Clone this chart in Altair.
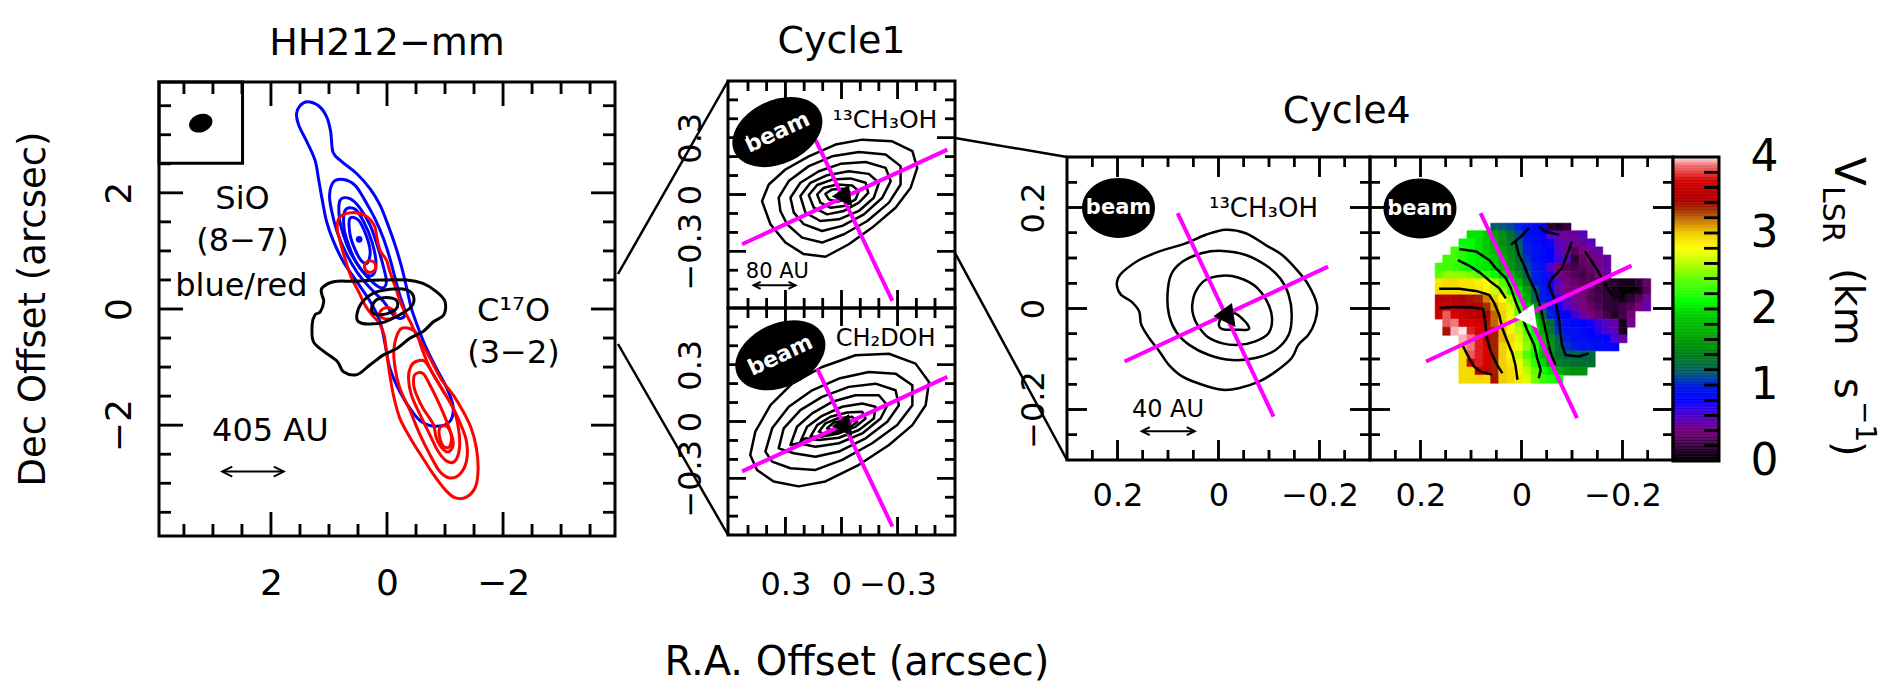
import altair as alt
import numpy as np
import pandas as pd

FONT = "DejaVu Sans"
W, H = 1884, 682
MAGENTA = "#ff00ff"

SIO_BLUE = [
    [(1.38, 3.57), (1.18, 3.50), (1.04, 3.31), (0.97, 3.05), (0.93, 2.70), (0.78, 2.54), (0.52, 2.33),
     (0.29, 2.07), (0.12, 1.79), (-0.02, 1.44), (-0.14, 1.10), (-0.25, 0.73), (-0.34, 0.36), (-0.42, 0.01),
     (-0.54, -0.33), (-0.68, -0.68), (-0.85, -1.02), (-1.03, -1.36), (-1.14, -1.68), (-1.08, -1.94),
     (-0.85, -2.02), (-0.62, -1.96), (-0.45, -1.79), (-0.22, -1.42), (-0.05, -1.02), (0.03, -0.62),
     (0.12, -0.22), (0.29, 0.13), (0.52, 0.47), (0.75, 0.81), (0.92, 1.16), (1.04, 1.50), (1.12, 1.90),
     (1.18, 2.24), (1.24, 2.56), (1.38, 2.88), (1.52, 3.16), (1.56, 3.36), (1.50, 3.50)],
    [(0.92, 2.19), (0.75, 2.23), (0.55, 2.13), (0.38, 1.87), (0.21, 1.56), (0.06, 1.21), (-0.05, 0.87),
     (-0.14, 0.53), (-0.22, 0.24), (-0.31, -0.05), (-0.25, -0.16), (-0.11, -0.10), (0.06, 0.13), (0.29, 0.36),
     (0.52, 0.64), (0.72, 0.99), (0.86, 1.33), (0.95, 1.67), (0.99, 1.96)],
    [(0.81, 1.87), (0.64, 1.90), (0.46, 1.73), (0.29, 1.44), (0.17, 1.10), (0.07, 0.76), (0.01, 0.47),
     (0.09, 0.36), (0.26, 0.47), (0.46, 0.70), (0.64, 0.99), (0.75, 1.27), (0.82, 1.56)],
    [(0.72, 1.70), (0.55, 1.72), (0.40, 1.50), (0.26, 1.16), (0.19, 0.81), (0.24, 0.59), (0.38, 0.61),
     (0.55, 0.84), (0.66, 1.10), (0.74, 1.39)],
    [(0.64, 1.56), (0.49, 1.53), (0.36, 1.27), (0.29, 0.99), (0.34, 0.79), (0.45, 0.84), (0.57, 1.07),
     (0.64, 1.30)],
]
SIO_BLUE_PEAK = [(0.48, 1.20)]

SIO_RED = [
    [(0.81, 1.59), (0.61, 1.66), (0.38, 1.61), (0.22, 1.44), (0.17, 1.21), (0.12, 1.01), (0.01, 0.84),
     (-0.05, 0.64), (-0.15, 0.36), (-0.25, 0.07), (-0.40, -0.22), (-0.51, -0.45), (-0.65, -0.68),
     (-0.80, -0.96), (-0.94, -1.22), (-1.14, -1.48), (-1.31, -1.76), (-1.45, -2.05), (-1.54, -2.39),
     (-1.57, -2.74), (-1.53, -3.05), (-1.37, -3.24), (-1.17, -3.25), (-1.00, -3.11), (-0.80, -2.85),
     (-0.60, -2.54), (-0.40, -2.22), (-0.22, -1.88), (-0.11, -1.48), (-0.04, -1.08), (0.01, -0.73),
     (0.05, -0.45), (0.13, -0.25), (0.26, -0.10), (0.38, 0.07), (0.49, 0.30), (0.61, 0.53), (0.69, 0.76),
     (0.76, 0.99), (0.82, 1.21), (0.86, 1.41)],
    [(0.29, 0.83), (0.36, 0.80), (0.39, 0.73), (0.36, 0.66), (0.29, 0.63), (0.22, 0.66), (0.19, 0.73),
     (0.22, 0.80)],
    [(0.12, -0.05), (0.03, 0.02), (-0.08, 0.00), (-0.14, -0.09), (-0.08, -0.16), (0.03, -0.17), (0.11, -0.13)],
    [(-0.22, -0.36), (-0.37, -0.33), (-0.51, -0.42), (-0.60, -0.68), (-0.74, -1.02), (-0.91, -1.31),
     (-1.08, -1.59), (-1.25, -1.94), (-1.37, -2.28), (-1.37, -2.62), (-1.25, -2.85), (-1.08, -2.91),
     (-0.91, -2.80), (-0.74, -2.51), (-0.57, -2.17), (-0.40, -1.76), (-0.22, -1.36), (-0.14, -1.02),
     (-0.12, -0.68)],
    [(-0.51, -0.90), (-0.65, -0.90), (-0.80, -1.13), (-0.97, -1.42), (-1.14, -1.71), (-1.23, -2.05),
     (-1.25, -2.39), (-1.17, -2.62), (-1.03, -2.62), (-0.88, -2.45), (-0.74, -2.17), (-0.57, -1.82),
     (-0.42, -1.48), (-0.37, -1.19), (-0.41, -0.99)],
    [(-0.48, -1.13), (-0.62, -1.11), (-0.74, -1.31), (-0.88, -1.59), (-1.03, -1.94), (-1.14, -2.28),
     (-1.08, -2.45), (-0.97, -2.42), (-0.85, -2.22), (-0.80, -1.99), (-0.62, -1.71), (-0.51, -1.48),
     (-0.46, -1.31)],
    [(-0.91, -2.05), (-1.03, -2.02), (-1.11, -2.19), (-1.08, -2.37), (-0.98, -2.37), (-0.91, -2.22)],
]

C17O = [
    [(1.12, 0.36), (0.92, 0.47), (0.58, 0.48), (0.12, 0.50), (-0.34, 0.50), (-0.62, 0.44), (-0.85, 0.30),
     (-1.00, 0.13), (-0.98, -0.10), (-0.80, -0.22), (-0.62, -0.39), (-0.40, -0.50), (-0.17, -0.68),
     (0.06, -0.79), (0.29, -0.96), (0.52, -1.13), (0.75, -1.08), (0.86, -0.90), (1.09, -0.73),
     (1.27, -0.56), (1.29, -0.27), (1.24, -0.10), (1.15, -0.05), (1.09, 0.13), (1.12, 0.24)],
    [(0.52, -0.10), (0.44, 0.10), (0.24, 0.27), (-0.05, 0.34), (-0.34, 0.33), (-0.46, 0.21), (-0.42, 0.04),
     (-0.22, -0.10), (0.06, -0.23), (0.32, -0.26), (0.49, -0.22)],
    [(0.26, 0.04), (0.18, 0.16), (0.01, 0.20), (-0.15, 0.16), (-0.18, 0.04), (-0.08, -0.05), (0.09, -0.10),
     (0.24, -0.07)],
]

CH3OH13_C1 = [
    [(0.425, -0.035), (0.389, 0.053), (0.30, 0.132), (0.175, 0.202), (0.032, 0.264), (-0.111, 0.29),
     (-0.271, 0.281), (-0.379, 0.229), (-0.405, 0.141), (-0.37, 0.036), (-0.289, -0.07), (-0.164, -0.175),
     (-0.039, -0.263), (0.086, -0.329), (0.202, -0.315), (0.30, -0.254), (0.38, -0.157)],
    [(0.336, -0.017), (0.282, 0.071), (0.175, 0.15), (0.05, 0.202), (-0.093, 0.225), (-0.236, 0.211),
     (-0.316, 0.15), (-0.316, 0.053), (-0.254, -0.043), (-0.138, -0.14), (-0.013, -0.21), (0.104, -0.254),
     (0.211, -0.228), (0.291, -0.157), (0.327, -0.087)],
    [(0.273, -0.017), (0.22, 0.062), (0.121, 0.123), (0.005, 0.162), (-0.129, 0.172), (-0.236, 0.141),
     (-0.263, 0.071), (-0.218, -0.017), (-0.12, -0.105), (-0.004, -0.166), (0.104, -0.193), (0.202, -0.157),
     (0.255, -0.096)],
    [(0.22, -0.008), (0.166, 0.062), (0.077, 0.102), (-0.039, 0.123), (-0.146, 0.109), (-0.2, 0.062),
     (-0.173, -0.017), (-0.093, -0.087), (0.014, -0.131), (0.113, -0.14), (0.193, -0.096)],
    [(0.175, -0.003), (0.13, 0.05), (0.05, 0.079), (-0.048, 0.085), (-0.129, 0.062), (-0.143, 0.009),
     (-0.093, -0.043), (-0.013, -0.087), (0.077, -0.105), (0.148, -0.07)],
    [(0.13, 0.0), (0.095, 0.036), (0.023, 0.053), (-0.057, 0.048), (-0.093, 0.018), (-0.075, -0.026),
     (-0.013, -0.061), (0.059, -0.07), (0.113, -0.043)],
    [(0.086, 0.004), (0.05, 0.027), (-0.013, 0.03), (-0.048, 0.009), (-0.03, -0.021), (0.023, -0.038),
     (0.068, -0.026)],
]

CH2DOH_C1 = [
    [(0.488, -0.177), (0.461, -0.054), (0.38, 0.086), (0.264, 0.2), (0.104, 0.288), (-0.075, 0.35),
     (-0.254, 0.358), (-0.396, 0.306), (-0.468, 0.209), (-0.45, 0.086), (-0.379, -0.019), (-0.254, -0.124),
     (-0.093, -0.229), (0.086, -0.317), (0.229, -0.343), (0.363, -0.317), (0.452, -0.256)],
    [(0.407, -0.159), (0.371, -0.036), (0.282, 0.078), (0.157, 0.165), (0.014, 0.227), (-0.146, 0.262),
     (-0.289, 0.253), (-0.379, 0.192), (-0.379, 0.086), (-0.298, -0.019), (-0.164, -0.115), (-0.004, -0.203),
     (0.139, -0.256), (0.273, -0.247), (0.371, -0.212)],
    [(0.336, -0.142), (0.309, -0.036), (0.22, 0.06), (0.104, 0.13), (-0.039, 0.183), (-0.182, 0.2),
     (-0.289, 0.165), (-0.307, 0.086), (-0.245, -0.001), (-0.129, -0.089), (0.014, -0.159), (0.139, -0.186),
     (0.255, -0.168)],
    [(0.273, -0.124), (0.238, -0.028), (0.157, 0.043), (0.05, 0.104), (-0.075, 0.139), (-0.2, 0.139),
     (-0.245, 0.086), (-0.209, 0.016), (-0.111, -0.063), (0.014, -0.115), (0.139, -0.133), (0.229, -0.115)],
    [(0.22, -0.107), (0.184, -0.028), (0.104, 0.03), (-0.004, 0.078), (-0.111, 0.095), (-0.182, 0.078),
     (-0.173, 0.016), (-0.093, -0.045), (0.014, -0.086), (0.121, -0.098), (0.193, -0.089)],
    [(0.166, -0.08), (0.13, -0.019), (0.059, 0.025), (-0.03, 0.048), (-0.111, 0.051), (-0.129, 0.016),
     (-0.075, -0.028), (0.014, -0.063), (0.104, -0.08)],
    [(0.121, -0.054), (0.086, -0.01), (0.023, 0.016), (-0.057, 0.025), (-0.084, -0.001), (-0.039, -0.036),
     (0.032, -0.057), (0.095, -0.066)],
    [(0.077, -0.036), (0.041, -0.005), (-0.021, 0.008), (-0.048, -0.01), (-0.013, -0.036), (0.041, -0.049)],
]

CH3OH13_C4 = [
    [(0.199, 0.06), (0.189, 0.073), (0.157, 0.096), (0.117, 0.113), (0.065, 0.129), (0.025, 0.146),
     (-0.014, 0.156), (-0.054, 0.149), (-0.093, 0.126), (-0.126, 0.106), (-0.152, 0.08), (-0.178, 0.047),
     (-0.195, 0.007), (-0.191, -0.026), (-0.178, -0.052), (-0.158, -0.072), (-0.145, -0.098),
     (-0.113, -0.125), (-0.08, -0.145), (-0.04, -0.158), (-0.008, -0.161), (0.032, -0.151), (0.071, -0.135),
     (0.098, -0.112), (0.117, -0.085), (0.137, -0.059), (0.153, -0.032), (0.157, -0.006), (0.173, 0.014),
     (0.193, 0.027), (0.201, 0.044)],
    [(0.101, 0.027), (0.094, 0.067), (0.071, 0.093), (0.032, 0.11), (-0.008, 0.114), (-0.054, 0.106),
     (-0.093, 0.086), (-0.122, 0.06), (-0.139, 0.027), (-0.145, -0.013), (-0.139, -0.052), (-0.113, -0.082),
     (-0.073, -0.098), (-0.027, -0.102), (0.019, -0.092), (0.058, -0.072), (0.084, -0.046), (0.098, -0.013)],
    [(0.052, 0.007), (0.045, 0.034), (0.025, 0.057), (-0.008, 0.065), (-0.04, 0.061), (-0.073, 0.044),
     (-0.096, 0.014), (-0.106, -0.019), (-0.099, -0.049), (-0.073, -0.065), (-0.04, -0.072), (-0.008, -0.069),
     (0.022, -0.056), (0.042, -0.032), (0.05, -0.013)],
    [(-0.001, -0.029), (-0.011, -0.013), (-0.031, -0.009), (-0.05, -0.023), (-0.06, -0.036), (-0.057, -0.042),
     (-0.034, -0.042), (-0.014, -0.042), (-0.004, -0.039)],
]

VEL_RA = [0.163, 0.148, 0.132, 0.116, 0.100, 0.084, 0.068, 0.053, 0.037, 0.021, 0.005, -0.011, -0.027,
          -0.043, -0.058, -0.074, -0.090, -0.106, -0.122, -0.138, -0.153, -0.169, -0.185, -0.201, -0.217,
          -0.233, -0.248]
VEL_DEC = [0.161, 0.146, 0.130, 0.114, 0.098, 0.082, 0.066, 0.051, 0.035, 0.019, 0.003, -0.013, -0.029,
           -0.045, -0.060, -0.076, -0.092, -0.108, -0.124, -0.140]
VEL_PIX = 0.0160
VEL_ROWS = [
    (7, [1.2, 1.15, 1.1, 1.0, 0.9, 0.85, 0.8, 0.15, 0.1, 0.2]),
    (4, [2.0, 2.0, 1.9, 1.6, 1.5, 1.3, 1.1, 0.9, 0.85, 0.8, 0.6, 0.5, 0.45, 0.5, 0.55]),
    (3, [2.1, 2.1, 2.0, 1.9, 1.7, 1.5, 1.35, 1.15, 0.95, 0.85, 0.8, 0.75, 0.55, 0.5, 0.45, 0.5, 0.55]),
    (2, [2.3, 2.2, 2.1, 2.0, 1.9, 1.8, 1.6, 1.45, 1.25, 1.0, 0.9, 0.85, 0.8, 0.6, 0.45, 0.3, 0.4, 0.45, 0.5]),
    (1, [2.3, 2.3, 2.2, 2.1, 2.05, 2.0, 1.9, 1.7, 1.5, 1.3, 1.05, 0.9, 0.85, 0.8, 0.65, 0.55, 0.2, 0.35, 0.4,
         0.45, 0.5]),
    (0, [2.3, 2.3, 2.25, 2.2, 2.1, 2.05, 2.0, 1.95, 1.75, 1.55, 1.35, 1.1, 0.95, 0.9, 0.6, 0.4, 0.3, 0.25, 0.3,
         0.35, 0.45, 0.5]),
    (0, [2.4, 2.5, 2.5, 2.5, 2.45, 2.35, 2.25, 2.1, 1.95, 1.75, 1.5, 1.2, 1.0, 0.9, 0.7, 0.45, 0.35, 0.3, 0.25,
         0.3, 0.4, 0.5]),
    (0, [2.9, 2.95, 2.95, 2.9, 2.9, 2.85, 2.8, 2.6, 2.35, 2.1, 1.75, 1.4, 1.0, 0.9, 0.75, 0.55, 0.4, 0.35, 0.3,
         0.3, 0.25, 0.2, 0.15, 0.1, 0.1, 0.2, 0.35]),
    (0, [2.95, 2.95, 2.95, 2.95, 2.9, 2.9, 2.85, 2.65, 2.5, 2.25, 1.95, 1.6, 1.2, 0.95, 0.85, 0.5, 0.4, 0.4,
         0.35, 0.3, 0.25, 0.2, 0.1, 0.05, 0.05, 0.1, 0.3]),
    (0, [3.5, 3.55, 3.5, 3.45, 3.4, 3.35, 3.15, 3.0, 2.8, 2.55, 2.15, 1.7, 1.25, 0.95, 0.9, 0.7, 0.55, 0.45,
         0.4, 0.3, 0.25, 0.2, 0.15, 0.1, 0.2, 0.3, 0.45]),
    (0, [3.6, 3.65, 3.6, 3.55, 3.5, 3.45, 3.3, 3.1, 2.95, 2.7, 2.3, 1.9, 1.5, 1.2, 0.95, 0.75, 0.6, 0.5, 0.4,
         0.35, 0.3, 0.2, 0.2, 0.25, 0.3, 0.4, 0.5]),
    (0, [3.6, 3.85, 3.7, 3.6, 3.55, 3.5, 3.45, 3.2, 3.0, 2.75, 2.4, 2.0, 1.6, 1.3, 1.0, 0.85, 0.8, 0.65, 0.5,
         0.4, 0.35, 0.25, 0.15, 0.25, 0.4]),
    (1, [3.85, 3.9, 3.7, 3.7, 3.65, 3.4, 3.2, 3.0, 2.8, 2.5, 2.2, 1.9, 1.6, 1.3, 1.0, 0.9, 0.85, 0.8, 0.75,
         0.65, 0.55, 0.5, 0.1, 0.45]),
    (1, [3.4, 3.95, 4.0, 3.75, 3.7, 3.65, 3.35, 3.05, 2.85, 2.6, 2.35, 2.05, 1.7, 1.35, 1.05, 0.9, 0.9, 0.85,
         0.8, 0.7, 0.6, 0.55, 0.1]),
    (3, [3.95, 3.9, 3.75, 3.6, 3.35, 3.05, 2.95, 2.7, 2.45, 2.15, 1.85, 1.5, 1.2, 1.0, 0.9, 0.9, 0.85, 0.85,
         0.8, 0.6, 0.5]),
    (3, [2.95, 3.9, 3.75, 3.7, 3.35, 3.0, 2.9, 2.75, 2.5, 2.2, 1.9, 1.55, 1.3, 1.05, 0.95, 0.9, 0.9, 0.85,
         0.85, 0.8]),
    (3, [2.95, 3.85, 3.75, 3.7, 3.35, 3.0, 2.85, 2.6, 2.35, 2.1, 1.8, 1.5, 1.3, 1.2, 1.25, 1.2, 1.25]),
    (3, [2.95, 3.7, 3.75, 3.7, 3.35, 3.0, 2.9, 2.75, 2.5, 2.25, 1.95, 1.6, 1.4, 1.35, 1.3, 1.3, 1.3]),
    (3, [2.95, 2.95, 3.6, 3.6, 3.35, 3.0, 2.95, 2.85, 2.6, 2.4, 2.15, 2.0, 1.7, 1.55, 1.5, 1.5]),
    (3, [2.95, 2.95, 2.95, 2.95, 3.4, 3.0, 2.95, 2.9, 2.7, 2.45, 2.25, 2.2, 2.1]),
]
VEL_CONTOURS = [
    [(0.163, 0.039), (0.123, 0.039), (0.087, 0.034), (0.064, 0.027), (0.054, 0.011), (0.044, -0.013),
     (0.038, -0.039), (0.028, -0.065), (0.018, -0.089), (0.012, -0.112), (0.008, -0.141)],
    [(0.163, 0.001), (0.13, 0.003), (0.097, 0.002), (0.076, -0.001), (0.072, -0.026), (0.069, -0.056),
     (0.061, -0.085), (0.048, -0.112), (0.038, -0.128)],
    [(0.117, -0.072), (0.107, -0.092), (0.094, -0.115), (0.081, -0.125), (0.058, -0.131)],
    [(0.123, 0.118), (0.09, 0.113), (0.064, 0.096), (0.051, 0.08), (0.031, 0.06), (0.021, 0.04), (0.012, 0.014),
     (-0.002, -0.019), (-0.011, -0.042), (-0.025, -0.072), (-0.031, -0.098), (-0.038, -0.122), (-0.034, -0.138)],
    [(0.126, 0.096), (0.104, 0.085), (0.081, 0.07), (0.061, 0.053), (0.044, 0.04), (0.031, 0.02)],
    [(0.021, 0.126), (0.005, 0.139), (-0.015, 0.159)],
    [(0.012, 0.133), (0.005, 0.106), (-0.005, 0.086), (-0.015, 0.06), (-0.028, 0.034), (-0.038, 0.001),
     (-0.044, -0.026), (-0.051, -0.059), (-0.057, -0.085), (-0.067, -0.112)],
    [(-0.034, 0.162), (-0.048, 0.152), (-0.074, 0.146)],
    [(-0.1, 0.133), (-0.09, 0.106), (-0.08, 0.08), (-0.061, 0.06), (-0.054, 0.047), (-0.067, 0.014),
     (-0.074, -0.019), (-0.077, -0.046), (-0.08, -0.072), (-0.087, -0.092), (-0.113, -0.095), (-0.133, -0.089)],
    [(-0.126, 0.113), (-0.139, 0.093), (-0.152, 0.073), (-0.166, 0.047), (-0.179, 0.027), (-0.198, 0.02),
     (-0.205, 0.034), (-0.231, 0.04)],
]
VEL_STOPS = [0.0, 0.2, 0.4, 0.6, 0.8, 1.0, 1.15, 1.3, 1.6, 1.9, 2.1, 2.4, 2.6, 2.8, 3.0, 3.15, 3.3, 3.45,
             3.7, 3.9, 4.0]
VEL_COLORS = ["#000000", "#300038", "#7a007a", "#5000d0", "#0000ff", "#0020e0", "#005878", "#007030",
              "#00a000", "#00c800", "#00ff00", "#60ff00", "#b8ff00", "#ffff00", "#f0d000", "#d08000",
              "#a03000", "#b00000", "#d80000", "#f07878", "#ffe8ee"]

CUTS_C1_TOP = [(0.532, -0.263, -0.566, 0.237), (0.139, 0.289, -0.272, -0.562)]
CUTS_C1_BOT = [(0.532, -0.264, -0.566, 0.236), (0.13, 0.28, -0.272, -0.554)]
CUTS_C4_L = [(0.186, -0.105, -0.217, 0.083), (0.081, 0.189, -0.109, -0.214)]
CUTS_C4_R = [(0.189, -0.105, -0.218, 0.085), (0.081, 0.189, -0.11, -0.217)]
STAR_C1_TOP = [(-0.013, -0.005)]
STAR_C1_BOT = [(-0.013, -0.019)]
STAR_C4_L = [(-0.016, -0.013)]
STAR_C4_R = [(-0.013, -0.015)]

P1_MAJ = [-2.0, 0.0, 2.0]
P1_MIN = [-3.5, -3.0, -2.5, -1.5, -1.0, -0.5, 0.5, 1.0, 1.5, 2.5, 3.0, 3.5]
P2_MAJ = [-0.3, 0.0, 0.3]
P2_MIN = [-0.5, -0.4, -0.2, -0.1, 0.1, 0.2, 0.4, 0.5]
P3_MAJ = [-0.2, 0.0, 0.2]
P3_MIN = [-0.25, -0.15, -0.1, -0.05, 0.05, 0.1, 0.15, 0.25]
CB_LAB = [0, 1, 2, 3, 4]
CB_MIN = [0.2, 0.4, 0.6, 0.8, 1.0, 1.2, 1.4, 1.6, 1.8, 2.0, 2.2, 2.4, 2.6, 2.8, 3.0, 3.2, 3.4, 3.6, 3.8]


class Panel:
    def __init__(self, xdom, ydom, xr, yr):
        self.xdom, self.ydom, self.xr, self.yr = xdom, ydom, xr, yr
        self.ppx = (xr[1] - xr[0]) / (xdom[1] - xdom[0])
        self.ppy = (yr[1] - yr[0]) / (ydom[1] - ydom[0])

    def sx(self):
        return alt.Scale(domain=self.xdom, range=self.xr, nice=False, zero=False)

    def sy(self):
        return alt.Scale(domain=self.ydom, range=self.yr, nice=False, zero=False)

    def X(self, f="x", axis=None):
        return alt.X(f"{f}:Q", scale=self.sx(), axis=axis)

    def Y(self, f="y", axis=None):
        return alt.Y(f"{f}:Q", scale=self.sy(), axis=axis)

    def px(self, v):
        return self.xr[0] + (v - self.xdom[0]) * self.ppx

    def py(self, v):
        return self.yr[0] + (v - self.ydom[0]) * self.ppy

    def mid(self):
        return pd.DataFrame({"x": [sum(self.xdom) / 2], "y": [sum(self.ydom) / 2]})


P1 = Panel([3.93, -3.93], [-3.91, 3.91], [151, 607], [528, 74])
P2A = Panel([0.607, -0.607], [-0.6, 0.6], [720, 947], [300, 73])
P2B = Panel([0.607, -0.607], [-0.6, 0.6], [720, 947], [527, 300])
P3A = Panel([0.3, -0.3], [-0.3, 0.3], [1059, 1362], [452, 149])
P3B = Panel([0.3, -0.3], [-0.3, 0.3], [1362, 1665], [452, 149])
CB = Panel([0, 1], [0, 4], [1665, 1711], [453, 149])
FIG = Panel([0, 1900], [0, 698], [-8, 1892], [-8, 690])

ELL_P1 = "M -1 0 A 1 0.75 0 1 1 1 0 A 1 0.75 0 1 1 -1 0 Z"
ELL_P2 = "M -1 0 A 1 0.67 0 1 1 1 0 A 1 0.67 0 1 1 -1 0 Z"
ELL_P3 = "M -1 0 A 1 0.82 0 1 1 1 0 A 1 0.82 0 1 1 -1 0 Z"
TRI = "M -1.1 0.1 L 0.45 -1 L 0.75 1 Z"
SHAPE_KEYS = ["L", "R", "b", "t", "l", "r"]
SHAPE_PATHS = ["M 2 -1 L 0 0 L 2 1", "M -2 -1 L 0 0 L -2 1",
               "M 0 0 L 0 -2", "M 0 0 L 0 2", "M 0 0 L 2 0", "M 0 0 L -2 0"]


def shape_enc():
    return alt.Shape("s:N", scale=alt.Scale(domain=SHAPE_KEYS, range=SHAPE_PATHS), legend=None)


def cdf(contours):
    rows = [{"cid": k, "i": i, "x": float(x), "y": float(y)}
            for k, c in enumerate(contours) for i, (x, y) in enumerate(c)]
    return pd.DataFrame(rows)


def contours(p, cons, color, width, interp):
    return alt.Chart(cdf(cons)).mark_line(
        color=color, strokeWidth=width, interpolate=interp, strokeJoin="round", opacity=1
    ).encode(x=p.X(), y=p.Y(), detail="cid:N", order="i:Q")


def segs(p, rows, color, width):
    df = pd.DataFrame(rows, columns=["x", "y", "x2", "y2"])
    return alt.Chart(df).mark_rule(color=color, strokeWidth=width, strokeCap="butt").encode(
        x=p.X(), y=p.Y(), x2="x2:Q", y2="y2:Q")


def box(p, x1, x2, y1, y2, width=3):
    df = pd.DataFrame({"x": [x1], "x2": [x2], "y": [y1], "y2": [y2]})
    return alt.Chart(df).mark_rect(fillOpacity=0, stroke="black", strokeWidth=width).encode(
        x=p.X(), x2="x2:Q", y=p.Y(), y2="y2:Q")


def frame(p):
    return box(p, p.xdom[0], p.xdom[1], p.ydom[0], p.ydom[1])


def tick_marks(p, vals, L, sides="tblr", tw=2.5):
    """Inward tick marks of length L px at the axis values, drawn as open line symbols."""
    rows = []
    for v in vals:
        if "b" in sides:
            rows.append((v, p.ydom[0], "b"))
        if "t" in sides:
            rows.append((v, p.ydom[1], "t"))
        if "l" in sides:
            rows.append((p.xdom[0], v, "l"))
        if "r" in sides:
            rows.append((p.xdom[1], v, "r"))
    df = pd.DataFrame(rows, columns=["x", "y", "s"])
    return alt.Chart(df).mark_point(filled=False, color="black", strokeWidth=tw, size=L * L, opacity=1,
                                    strokeCap="butt").encode(x=p.X(), y=p.Y(), shape=shape_enc())


def tick_centres(p, vals, L, sides="tblr"):
    """Centres (figure pixels) of the inward ticks; 'v' = vertical tick, 'h' = horizontal tick."""
    vert, horz = [], []
    left, right = p.xr[0] + 8, p.xr[1] + 8
    bottom, top = p.yr[0] + 8, p.yr[1] + 8
    for v in vals:
        xv, yv = p.px(v) + 8, p.py(v) + 8
        if "b" in sides:
            vert.append((xv, bottom - L / 2, L))
        if "t" in sides:
            vert.append((xv, top + L / 2, L))
        if "l" in sides:
            horz.append((left + L / 2, yv, L))
        if "r" in sides:
            horz.append((right - L / 2, yv, L))
    return vert, horz


def symbols(p, pts, shape, size, fill, angle=0):
    df = pd.DataFrame(pts, columns=["x", "y"])
    return alt.Chart(df).mark_point(shape=shape, size=size, filled=True, color=fill, fill=fill,
                                    opacity=1, strokeWidth=0, angle=angle).encode(x=p.X(), y=p.Y())


def texts(p, rows, align="center", baseline="alphabetic", color="black", weight="normal"):
    df = pd.DataFrame(rows, columns=["x", "y", "t", "fs", "a"])
    return alt.Chart(df).mark_text(font=FONT, color=color, align=align, baseline=baseline,
                                   fontWeight=weight).encode(
        x=p.X(), y=p.Y(), text="t:N", size=alt.Size("fs:Q", scale=None),
        angle=alt.Angle("a:Q", scale=None))


def arrow(p, x1, x2, y, head):
    line = segs(p, [(x1, y, x2, y)], "black", 2)
    df = pd.DataFrame({"x": [x1, x2], "y": [y, y], "s": ["L", "R"]})
    heads = alt.Chart(df).mark_point(filled=False, color="black", strokeWidth=2, size=head, opacity=1).encode(
        x=p.X(), y=p.Y(), shape=shape_enc())
    return [line, heads]


def beam(p, pt, path, size, angle, fs):
    return [symbols(p, [pt], path, size, "black", angle),
            texts(p, [(pt[0], pt[1], "beam", fs, angle)], baseline="middle", color="white", weight="bold")]


def label_axes(p, xvals=None, xbase=None, yvals=None, ybase=None, size=36, yorient="left"):
    common = dict(domain=False, ticks=False, tickSize=0, grid=False, title=None, labelFont=FONT,
                  labelFontSize=size, labelColor="black", labelOverlap=False, labelFlush=False,
                  labelBound=False, format="~g")
    xaxis = None
    if xvals is not None:
        xaxis = alt.Axis(orient="bottom", values=xvals, offset=p.yr[0] - H, labelPadding=xbase - p.yr[0],
                         labelAngle=0, labelAlign="center", labelBaseline="alphabetic", **common)
    yaxis = None
    if yvals is not None:
        if yorient == "left":
            yaxis = alt.Axis(orient="left", values=yvals, offset=-p.xr[0], labelPadding=p.xr[0] - ybase,
                             labelAngle=270, labelAlign="center", labelBaseline="alphabetic", **common)
        else:
            yaxis = alt.Axis(orient="right", values=yvals, offset=p.xr[1] - W, labelPadding=ybase - p.xr[1],
                             labelAngle=0, labelAlign="left", labelBaseline="middle", **common)
    return alt.Chart(p.mid()).mark_point(opacity=0).encode(x=p.X(axis=xaxis), y=p.Y(axis=yaxis))


def vel_scale():
    return alt.Scale(domain=VEL_STOPS, range=VEL_COLORS, interpolate="rgb", clamp=True)


def panel_ticks(p, maj, mnr, Lj, Ln):
    return [tick_marks(p, maj, Lj), tick_marks(p, mnr, Ln)]


groups = []
groups.append(label_axes(P1, xvals=P1_MAJ, xbase=586, yvals=P1_MAJ, ybase=122, size=36))
groups.append(label_axes(P2A, yvals=P2_MAJ, ybase=692, size=32))
groups.append(label_axes(P2B, xvals=P2_MAJ, xbase=586, yvals=P2_MAJ, ybase=692, size=32))
groups.append(label_axes(P3A, xvals=P3_MAJ, xbase=497, yvals=P3_MAJ, ybase=1035, size=32))
groups.append(label_axes(P3B, xvals=P3_MAJ, xbase=497, size=32))
groups.append(label_axes(CB, yvals=CB_LAB, ybase=1742, size=44, yorient="right"))

p1 = [
    contours(P1, SIO_BLUE, "#0000ff", 3, "cardinal-closed"),
    symbols(P1, SIO_BLUE_PEAK, "circle", 45, "#0000ff"),
    contours(P1, SIO_RED, "#ff0000", 3, "cardinal-closed"),
    contours(P1, C17O, "black", 3, "cardinal-closed"),
    box(P1, 3.93, 2.49, 2.51, 3.91),
    symbols(P1, [(3.21, 3.20)], ELL_P1, 576, "black", 340),
    texts(P1, [(0, 4.38, "HH212\u2212mm", 38, 0),
               (2.49, 1.72, "SiO", 32, 0), (2.49, 1.0, "(8\u22127)", 32, 0),
               (2.51, 0.22, "blue/red", 32, 0), (-2.18, -0.21, "C\u00b9\u2077O", 32, 0),
               (-2.18, -0.93, "(3\u22122)", 32, 0), (2.01, -2.27, "405 AU", 32, 0),
               (5.90, 0, "Dec Offset (arcsec)", 37, 270)]),
] + arrow(P1, 2.84, 1.78, -2.80, 100) + [frame(P1)] + panel_ticks(P1, P1_MAJ, P1_MIN, 24, 12)
groups.append(alt.layer(*p1))

p2a = [
    contours(P2A, CH3OH13_C1, "black", 2.5, "linear-closed"),
    segs(P2A, CUTS_C1_TOP, MAGENTA, 4),
    symbols(P2A, STAR_C1_TOP, TRI, 484, "black", 0),
    texts(P2A, [(0, 0.75, "Cycle1", 38, 0), (0.343, -0.44, "80 AU", 21, 0)]),
    texts(P2A, [(-0.513, 0.351, "\u00b9\u00b3CH\u2083OH", 25, 0)], align="right"),
] + beam(P2A, (0.343, 0.33), ELL_P2, 8990, 335, 22) + arrow(P2A, 0.47, 0.246, -0.48, 49) + [frame(P2A)] \
    + panel_ticks(P2A, P2_MAJ, P2_MIN, 18, 10)
groups.append(alt.layer(*p2a))

p2b = [
    contours(P2B, CH2DOH_C1, "black", 2.5, "linear-closed"),
    segs(P2B, CUTS_C1_BOT, MAGENTA, 4),
    symbols(P2B, STAR_C1_BOT, TRI, 484, "black", 0),
    texts(P2B, [(-0.503, 0.40, "CH\u2082DOH", 24, 0)], align="right"),
] + beam(P2B, (0.327, 0.35), ELL_P2, 8990, 335, 22) + [frame(P2B)] + panel_ticks(P2B, P2_MAJ, P2_MIN, 18, 10)
groups.append(alt.layer(*p2b))

p3a = [
    contours(P3A, CH3OH13_C4, "black", 2.5, "cardinal-closed"),
    segs(P3A, CUTS_C4_L, MAGENTA, 4),
    symbols(P3A, STAR_C4_L, TRI, 576, "black", 0),
    texts(P3A, [(-0.254, 0.367, "Cycle4", 38, 0), (0.1, -0.214, "40 AU", 24, 0)]),
    texts(P3A, [(-0.197, 0.182, "\u00b9\u00b3CH\u2083OH", 26, 0)], align="right"),
] + beam(P3A, (0.198, 0.199), ELL_P3, 5329, 0, 21) + arrow(P3A, 0.152, 0.047, -0.243, 64) + [frame(P3A)] \
    + panel_ticks(P3A, P3_MAJ, P3_MIN, 20, 10)
groups.append(alt.layer(*p3a))

cells = []
for r, (c0, vals) in enumerate(VEL_ROWS):
    for k, v in enumerate(vals):
        c = c0 + k
        cells.append({"x": VEL_RA[c] + VEL_PIX / 2, "x2": VEL_RA[c] - VEL_PIX / 2,
                      "y": VEL_DEC[r] - VEL_PIX / 2, "y2": VEL_DEC[r] + VEL_PIX / 2, "v": v})
cells = pd.DataFrame(cells)
vel_map = alt.Chart(cells).mark_rect(strokeWidth=0.6).encode(
    x=P3B.X(), x2="x2:Q", y=P3B.Y(), y2="y2:Q",
    color=alt.Color("v:Q", scale=vel_scale(), legend=None),
    stroke=alt.Stroke("v:Q", scale=vel_scale(), legend=None))
p3b = [
    vel_map,
    alt.Chart(cdf(VEL_CONTOURS)).mark_line(color="black", strokeWidth=2.5, strokeJoin="round").encode(
        x=P3B.X(), y=P3B.Y(), detail="cid:N", order="i:Q"),
    segs(P3B, CUTS_C4_R, MAGENTA, 4),
    symbols(P3B, STAR_C4_R, TRI, 576, "white", 0),
] + beam(P3B, (0.201, 0.198), ELL_P3, 5329, 0, 21) + [frame(P3B)] + panel_ticks(P3B, P3_MAJ, P3_MIN, 20, 10)
groups.append(alt.layer(*p3b))

cb_levels = np.round(np.arange(0, 4.0, 0.02), 2)
cbdf = pd.DataFrame({"x": 0.0, "x2": 1.0, "y": cb_levels, "y2": cb_levels + 0.02, "v": cb_levels + 0.01})
cbar = alt.Chart(cbdf).mark_rect(strokeWidth=0.6).encode(
    x=CB.X(), x2="x2:Q", y=CB.Y(), y2="y2:Q",
    color=alt.Color("v:Q", scale=vel_scale(), legend=None),
    stroke=alt.Stroke("v:Q", scale=vel_scale(), legend=None))
groups.append(alt.layer(cbar, frame(CB), tick_marks(CB, CB_MIN, 15, sides="r")))

# tick marks once more as Vega-Lite tick marks (figure pixels), same positions as above
vert_all, horz_all = [], []
for p, maj, mnr, Lj, Ln in [(P1, P1_MAJ, P1_MIN, 24, 12), (P2A, P2_MAJ, P2_MIN, 18, 10),
                            (P2B, P2_MAJ, P2_MIN, 18, 10), (P3A, P3_MAJ, P3_MIN, 20, 10),
                            (P3B, P3_MAJ, P3_MIN, 20, 10)]:
    for vals, L in [(maj, Lj), (mnr, Ln)]:
        a, b = tick_centres(p, vals, L)
        vert_all += a
        horz_all += b
horz_all += tick_centres(CB, CB_MIN, 15, sides="r")[1]
vdf = pd.DataFrame(vert_all, columns=["x", "y", "len"])
hdf = pd.DataFrame(horz_all, columns=["x", "y", "len"])
tick_v = alt.Chart(vdf).mark_tick(orient="vertical", color="black", thickness=2.5, opacity=1).encode(
    x=FIG.X(), y=FIG.Y(), size=alt.Size("len:Q", scale=None))
tick_h = alt.Chart(hdf).mark_tick(orient="horizontal", color="black", thickness=2.5, opacity=1).encode(
    x=FIG.X(), y=FIG.Y(), size=alt.Size("len:Q", scale=None))

CONNECTORS = [(618, 274, 728, 81), (618, 344, 728, 535), (955, 138, 1067, 157), (955, 253, 1067, 460)]
fig = [
    segs(FIG, CONNECTORS, "black", 2.5),
    tick_v,
    tick_h,
    texts(FIG, [(857, 675, "R.A. Offset (arcsec)", 40, 0)]),
    texts(FIG, [(1835, 157, "V", 42, 90), (1823, 186, "LSR", 30, 90), (1835, 268, "(km", 40, 90),
                (1835, 378, "s", 40, 90), (1856, 401, "\u22121", 28, 90), (1835, 441, ")", 40, 90)],
          align="left"),
]
groups.append(alt.layer(*fig))

chart = alt.layer(*groups).resolve_scale(
    x="independent", y="independent", color="independent", stroke="independent", shape="independent",
    size="independent"
).resolve_axis(x="independent", y="independent").properties(
    width=W, height=H, padding=0, autosize=alt.AutoSizeParams(type="none"), background="white"
).configure_view(stroke=None)

chart.save("out.html", embed_options={"renderer": "svg", "actions": False})
